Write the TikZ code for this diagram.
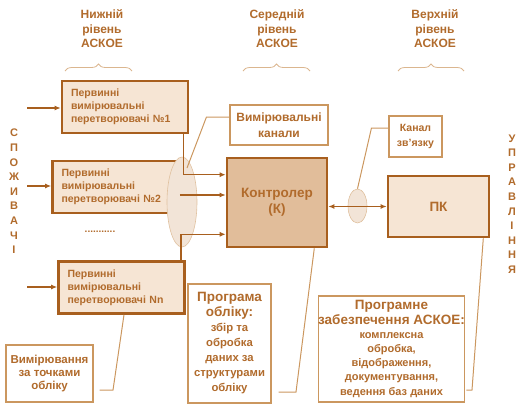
\documentclass[tikz,border=0pt]{standalone}
\usepackage{fontspec}
\setmainfont{Liberation Sans}
\usetikzlibrary{arrows.meta,positioning,shapes.geometric,decorations.pathreplacing,calc}
\definecolor{brownline}{HTML}{A85F1E}
\definecolor{browntext}{HTML}{B16B2C}
\definecolor{thinline}{HTML}{CB975F}
\definecolor{lightfill}{HTML}{F6E5D4}
\definecolor{ctrlfill}{HTML}{E1BD9A}
\definecolor{ellfill}{HTML}{F2E4D7}
\newcommand{\bigline}{\fontsize{13.5}{15}\selectfont}
\tikzset{
  txt/.style={text=browntext, font=\bfseries},
  thickbox/.style={txt, draw=brownline, line width=2.6pt, fill=lightfill, inner sep=0pt},
  thinbox/.style={txt, draw=thinline, line width=1.1pt, fill=white, inner sep=0pt, align=center},
  arr/.style={draw=brownline, line width=1.4pt, -{Latex[length=6pt,width=5pt]}},
  callout/.style={draw=thinline, line width=1pt},
  ell/.style={ellipse, draw=thinline!60, fill=ellfill, line width=0.6pt, inner sep=0pt},
  levelbrace/.style={draw=thinline!70, line width=0.8pt, decorate, decoration={brace, amplitude=7pt}},
  header/.style={txt, font=\bfseries\fontsize{12}{14.5}\selectfont, align=center}
}
\begin{document}
\begin{tikzpicture}[x=1pt, y=-1pt]
  \useasboundingbox (0,0) rectangle (528,410);

  % level headers and braces
  \node[header] (lvl1) at (102,29) {Нижній\\рівень\\АСКОЕ};
  \node[header] (lvl2) at (277,29) {Середній\\рівень\\АСКОЕ};
  \node[header] (lvl3) at (435,29) {Верхній\\рівень\\АСКОЕ};
  \draw[levelbrace] (65,71) -- (132,71);
  \draw[levelbrace] (243,71) -- (310,71);
  \draw[levelbrace] (398,71) -- (464,71);

  % side labels
  \node[txt, font=\bfseries\fontsize{11}{14.6}\selectfont, align=center] (cons) at (14,191.5)
    {С\\П\\О\\Ж\\И\\В\\А\\Ч\\І};
  \node[txt, font=\bfseries\fontsize{11}{14.6}\selectfont, align=center] (ctrlside) at (512,204)
    {У\\П\\Р\\А\\В\\Л\\І\\Н\\Н\\Я};

  % primary converters
  \tikzset{conv/.style={thickbox, minimum width=126pt, minimum height=52pt, text width=108pt, align=left,
    font=\bfseries\fontsize{10.5}{13}\selectfont}}
  \node[conv] (p1) at (125,107) {Первинні\\вимірювальні\\перетворювачі №1};
  \node[conv] (p2) at (115.5,187) {Первинні\\вимірювальні\\перетворювачі №2};
  \node[conv] (pn) at (121.5,287.5) {Первинні\\вимірювальні\\перетворювачі Nn};
  \node[txt, font=\bfseries\fontsize{10}{12}\selectfont] (dots) at (100,232) {...........};

  \coordinate (in1) at (27,108);
  \coordinate (in2) at (27,186);
  \coordinate (inn) at (27,287);
  \draw[arr] (in1) -- (in1 -| p1.west);
  \draw[arr] (in2) -- (in2 -| p2.west);
  \draw[arr] (inn) -- (inn -| pn.west);

  % measuring channels
  \node[ell] (el1) at (182,202) [minimum width=30pt, minimum height=90pt] {};
  \node[thickbox, fill=ctrlfill, minimum width=100pt, minimum height=89pt, align=center,
    font=\bfseries\fontsize{13.5}{16}\selectfont] (ctrl) at (277,202.5) {Контролер\\(К)};
  \coordinate (a1) at ([xshift=-6pt]p1.south east);
  \coordinate (a2) at ([yshift=-8pt]p2.east);
  \coordinate (an) at ([xshift=-5pt]pn.north east);
  \draw[arr] (a1) |- ([yshift=-18pt]ctrl.north west);
  \draw[arr] (a2) -- (a2 -| ctrl.west);
  \draw[arr] (an) |- ([yshift=14pt]ctrl.south west);

  \node[thinbox, minimum width=98pt, minimum height=40pt, font=\bfseries\fontsize{12}{15.5}\selectfont]
    (chan) at (279,125) {Вимірювальні\\канали};
  \coordinate (el1p) at (187,168);
  \draw[callout] ([yshift=8pt]chan.west) -- ++(-23,0) -- (el1p);

  % communication channel and PC
  \node[thickbox, minimum width=101pt, minimum height=61pt, font=\bfseries\fontsize{13.5}{16}\selectfont]
    (pc) at (438.5,206.5) {ПК};
  \node[ell] (el2) at (357.5,206) [minimum width=19pt, minimum height=34pt] {};
  \draw[arr, {Latex[length=6pt,width=5pt]}-{Latex[length=6pt,width=5pt]}] (ctrl.east |- pc.west) -- (pc.west);
  \node[thinbox, minimum width=53pt, minimum height=41pt, font=\bfseries\fontsize{10.5}{15}\selectfont]
    (link) at (415.5,136.5) {Канал\\зв'язку};
  \draw[callout] ([yshift=8.5pt]link.west) -- ++(-17,0) -- (el2.north);

  % bottom notes
  \node[thinbox, minimum width=87pt, minimum height=57pt, font=\bfseries\fontsize{11.5}{12.8}\selectfont]
    (meas) at (49.5,373.5) {Вимірювання\\за точками\\обліку};
  \draw[callout, shorten >=6pt] ([xshift=2.5pt]pn.south) -- (113,390) -- ([yshift=-16.5pt]meas.east);

  \node[thinbox, minimum width=83pt, minimum height=119pt, font=\bfseries\fontsize{11.3}{15}\selectfont]
    (prog) at (229.5,343.5) {\bigline Програма\\\bigline обліку:\\збір та\\обробка\\даних за\\структурами\\обліку};
  \draw[callout, shorten >=7pt] ([xshift=-14pt]ctrl.south east) -- (296,392) -- ([yshift=-48.5pt]prog.east);

  \node[thinbox, minimum width=143pt, minimum height=106pt, font=\bfseries\fontsize{11}{14.2}\selectfont]
    (soft) at (391.5,349) {\bigline Програмне\\\bigline забезпечення АСКОЕ:\\комплексна\\обробка,\\відображення,\\документування,\\ведення баз даних};
  \draw[callout, shorten >=1pt] ([xshift=-7pt]pc.south east) -- (472,390) -- ([yshift=-41pt]soft.east);
\end{tikzpicture}
\end{document}
